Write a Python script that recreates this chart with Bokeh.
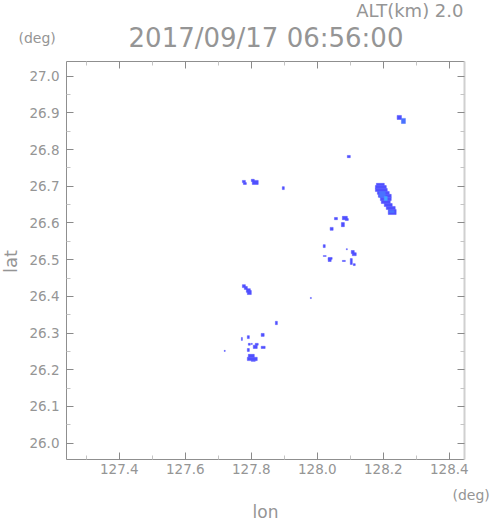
from bokeh.plotting import figure
from bokeh.models import (Range1d, FixedTicker, PrintfTickFormatter, LinearAxis,
                          Label, ColumnDataSource, CustomLabelingPolicy)
from bokeh.embed import file_html
from bokeh.resources import INLINE
import math

# ---- data: radar echo patches at ALT 2.0 km (lon/lat extents, intensity level) ----
lon_min = [128.242, 128.255, 128.091,
           128.179, 128.176, 128.176, 128.182, 128.185, 128.191, 128.194, 128.203, 128.209, 128.215,
           128.188, 128.203, 128.218,
           127.773, 127.776, 127.800, 127.803, 127.894,
           128.052, 128.076, 128.085, 128.073, 128.039, 128.018, 128.088, 128.103, 128.106,
           128.018, 128.033, 128.033, 128.076, 128.100, 128.109,
           127.773, 127.779, 127.785, 127.788, 127.979, 127.873, 127.830, 127.788, 127.770,
           127.791, 127.800, 127.806, 127.812, 127.830, 127.788, 127.718, 127.791, 127.788, 127.800]
lon_max = [128.255, 128.267, 128.100,
           128.203, 128.209, 128.212, 128.218, 128.224, 128.224, 128.221, 128.227, 128.236, 128.239,
           128.206, 128.212, 128.233,
           127.782, 127.785, 127.809, 127.821, 127.900,
           128.061, 128.091, 128.094, 128.082, 128.048, 128.024, 128.091, 128.112, 128.118,
           128.027, 128.045, 128.042, 128.085, 128.106, 128.115,
           127.782, 127.788, 127.797, 127.800, 127.982, 127.879, 127.839, 127.794, 127.773,
           127.797, 127.803, 127.818, 127.821, 127.842, 127.794, 127.721, 127.809, 127.818, 127.812]
lat_min = [26.882, 26.871, 26.778,
           26.702, 26.694, 26.686, 26.678, 26.670, 26.661, 26.653, 26.645, 26.637, 26.623,
           26.670, 26.661, 26.628,
           26.710, 26.705, 26.713, 26.705, 26.691,
           26.609, 26.609, 26.607, 26.590, 26.580, 26.533, 26.527, 26.517, 26.511,
           26.509, 26.501, 26.495, 26.495, 26.487, 26.484,
           26.424, 26.419, 26.411, 26.405, 26.394, 26.323, 26.291, 26.285, 26.280,
           26.267, 26.269, 26.258, 26.267, 26.258, 26.250, 26.250, 26.234, 26.225, 26.223]
lat_max = [26.893, 26.885, 26.784,
           26.708, 26.702, 26.694, 26.686, 26.678, 26.670, 26.661, 26.653, 26.645, 26.637,
           26.686, 26.672, 26.634,
           26.716, 26.710, 26.719, 26.716, 26.699,
           26.615, 26.618, 26.612, 26.601, 26.588, 26.541, 26.530, 26.525, 26.519,
           26.511, 26.506, 26.503, 26.498, 26.503, 26.489,
           26.432, 26.427, 26.421, 26.416, 26.397, 26.332, 26.299, 26.293, 26.288,
           26.272, 26.272, 26.267, 26.272, 26.264, 26.258, 26.253, 26.242, 26.234, 26.225]
level = [1, 2, 1,
         1, 1, 1, 1, 1, 1, 1, 1, 1, 1,
         2, 3, 2,
         1, 1, 1, 1, 1,
         1, 1, 1, 1, 1, 1, 1, 1, 1,
         1, 1, 1, 1, 1, 1,
         1, 1, 1, 1, 1, 1, 1, 1, 1,
         1, 1, 1, 1, 1, 1, 1, 1, 1, 1]

x_ticks = [127.4, 127.6, 127.8, 128.0, 128.2, 128.4]
x_minor = [127.3, 127.5, 127.7, 127.9, 128.1, 128.3]
y_ticks = [26.0, 26.1, 26.2, 26.3, 26.4, 26.5, 26.6, 26.7, 26.8, 26.9, 27.0]
y_minor = [26.05, 26.15, 26.25, 26.35, 26.45, 26.55, 26.65, 26.75, 26.85, 26.95]

title_text = "2017/09/17 06:56:00"
alt_text = "ALT(km) 2.0"

level_colors = {1: "#5050ff", 2: "#4a72ff", 3: "#46a6ff"}

# map box (lon/lat limits) and its placement on the page
BOX_X0, BOX_X1 = 127.24, 128.445
BOX_Y0, BOX_Y1 = 25.956, 27.04
W, H = 491, 521
PX_LEFT, PX_TOP = 66, 61          # box top-left on page
SX, SY = 330.0, 367.0             # pixels per degree


def dx(px):
    return BOX_X0 + (px - PX_LEFT) / SX


def dy(py):
    return BOX_Y1 - (py - PX_TOP) / SY


p = figure(frame_width=W, frame_height=H,
           x_range=Range1d(dx(0), dx(W)), y_range=Range1d(dy(H), dy(0)),
           output_backend="svg", toolbar_location=None,
           x_axis_location=None, y_axis_location=None,
           min_border=0)
p.outline_line_color = None
p.background_fill_color = "white"
p.border_fill_color = "white"
p.xgrid.visible = False
p.ygrid.visible = False

src = ColumnDataSource(dict(left=lon_min, right=lon_max, bottom=lat_min, top=lat_max,
                            color=[level_colors[v] for v in level]))
p.quad(left="left", right="right", bottom="bottom", top="top", source=src,
       fill_color="color", line_color="color", line_width=0.5)

LBL = "#959595"


def make_axis(ticks, minor, show_labels, loc, bounds, line_color="#8f8f8f", line_width=1):
    ax = LinearAxis(ticker=FixedTicker(ticks=ticks, minor_ticks=minor),
                    formatter=PrintfTickFormatter(format="%.1f"),
                    fixed_location=loc, bounds=bounds)
    ax.axis_line_color = line_color
    ax.axis_line_width = line_width
    ax.major_tick_in = 7
    ax.major_tick_out = 0
    ax.minor_tick_in = 4
    ax.minor_tick_out = 0
    ax.major_tick_line_color = "#8a8a8a"
    ax.minor_tick_line_color = "#c4c4c4"
    ax.major_label_text_font = "DejaVu Sans"
    ax.major_label_text_font_size = "13.5px"
    ax.major_label_text_color = LBL
    if not show_labels:
        ax.major_label_policy = CustomLabelingPolicy(
            code="for (const i of Array.from(indices)) { indices.unset(i) }; return indices")
        ax.major_label_standoff = 0
    return ax


xb = (BOX_X0, BOX_X1)
yb = (BOX_Y0, BOX_Y1)
bottom_ax = make_axis(x_ticks, x_minor, True, BOX_Y0, xb)
bottom_ax.major_label_standoff = 5
left_ax = make_axis(y_ticks, y_minor, True, BOX_X0, yb)
left_ax.major_label_standoff = 7
top_ax = make_axis(x_ticks, x_minor, False, BOX_Y1, xb)
right_ax = make_axis(y_ticks, y_minor, False, BOX_X1, yb, line_color="#d0d0d0", line_width=2)
p.add_layout(bottom_ax, "below")
p.add_layout(left_ax, "left")
p.add_layout(top_ax, "above")
p.add_layout(right_ax, "right")


def lab(px, py, text, size, align="left", angle=0.0):
    p.add_layout(Label(x=dx(px), y=dy(py), text=text, text_font="DejaVu Sans",
                       text_font_size=size, text_color=LBL, text_align=align,
                       text_baseline="alphabetic", angle=angle))


lab(265.5, 37, title_text, "26px", "center")
lab(463, 10, alt_text, "18px", "right")
lab(18, 37, "(deg)", "14px", "left")
lab(452, 494, "(deg)", "14px", "left")
lab(265, 511, "lon", "17px", "center")
lab(10, 261, "lat", "18px", "center", angle=math.pi / 2)

open("out.html", "w").write(file_html(p, INLINE))
